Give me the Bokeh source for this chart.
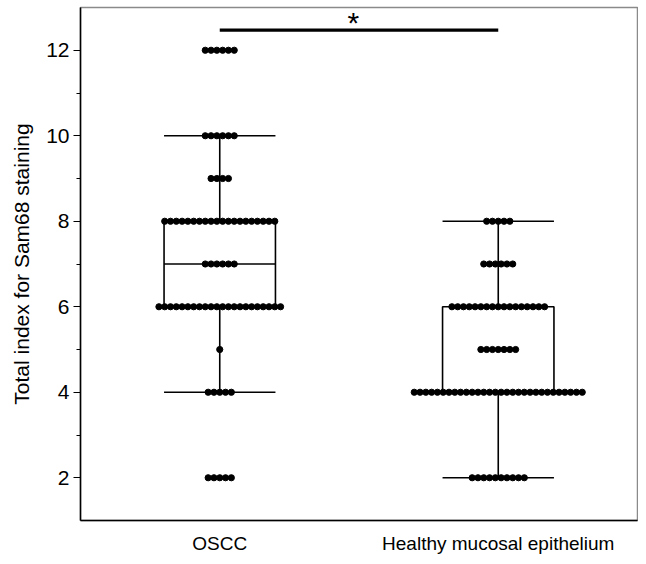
from bokeh.plotting import figure
from bokeh.models import FixedTicker
from bokeh.core.properties import value
from bokeh.embed import file_html
from bokeh.resources import INLINE

# ---- data ----
categories = ["OSCC", "Healthy mucosal epithelium"]
oscc_levels = [12, 10, 9, 8, 7, 6, 5, 4, 2]
oscc_counts = [6, 6, 4, 20, 6, 22, 1, 5, 5]
healthy_levels = [8, 7, 6, 5, 4, 2]
healthy_counts = [5, 6, 17, 7, 30, 10]
# box stats: whisker low, q1, median, q3, whisker high
oscc_box = [4, 6, 7, 8, 10]
healthy_box = [2, 4, 4, 6, 8]
sig_label = "*"
y_title = "Total index for Sam68 staining"
y_ticks = [2, 4, 6, 8, 10, 12]
y_minor = [3, 5, 7, 9, 11]

FONT = "Liberation Sans"

p = figure(width=638, height=556, x_range=(0.5, 2.5), y_range=(1, 13),
           output_backend="svg", toolbar_location=None,
           min_border_left=80, min_border_right=1, min_border_top=7,
           min_border_bottom=36)
p.grid.visible = False
p.outline_line_color = "#8a8a8a"
p.outline_line_width = 1.5
p.background_fill_color = "white"
p.border_fill_color = "white"

spacing = 0.0208
half_w = 0.2
groups = [(1, oscc_levels, oscc_counts, oscc_box),
          (2, healthy_levels, healthy_counts, healthy_box)]

for xc, levels, counts, box in groups:
    lo, q1, med, q3, hi = box
    p.quad(left=[xc - half_w], right=[xc + half_w], bottom=[q1], top=[q3],
           fill_color=None, line_color="black", line_width=1.6)
    p.segment(x0=[xc - half_w], x1=[xc + half_w], y0=[med], y1=[med],
              line_color="black", line_width=1.6)
    p.segment(x0=[xc, xc], x1=[xc, xc], y0=[q3, lo], y1=[hi, q1],
              line_color="black", line_width=1.6)
    p.segment(x0=[xc - half_w, xc - half_w], x1=[xc + half_w, xc + half_w],
              y0=[lo, hi], y1=[lo, hi], line_color="black", line_width=1.6)
    xs, ys = [], []
    for lev, n in zip(levels, counts):
        for i in range(n):
            xs.append(xc + (i - (n - 1) / 2) * spacing)
            ys.append(lev)
    p.scatter(x=xs, y=ys, size=6.2, fill_color="black", line_color="black")

# significance bar
p.segment(x0=[1], x1=[2], y0=[12.47], y1=[12.47], line_color="black", line_width=3.2)
p.text(x=[1.48], y=[12.64], text=[sig_label], text_align="center",
       text_baseline="middle", text_font=value(FONT), text_font_size="30px",
       text_color="black")

# axes
p.yaxis.ticker = FixedTicker(ticks=y_ticks, minor_ticks=y_minor)
p.yaxis.axis_label = y_title
p.yaxis.axis_label_text_font = FONT
p.yaxis.axis_label_text_font_size = "21px"
p.yaxis.axis_label_text_font_style = "normal"
p.yaxis.axis_label_text_color = "black"
p.yaxis.axis_label_standoff = 10
p.yaxis.major_label_text_font = FONT
p.yaxis.major_label_text_font_size = "21px"
p.yaxis.major_label_text_color = "black"
p.yaxis.major_tick_out = 7
p.yaxis.major_tick_in = 0
p.yaxis.minor_tick_out = 4
p.yaxis.minor_tick_in = 0
p.yaxis.axis_line_width = 1.5
p.yaxis.major_tick_line_width = 1.2
p.yaxis.minor_tick_line_width = 1.2
p.yaxis.major_label_standoff = 4

p.xaxis.ticker = FixedTicker(ticks=[1, 2], minor_ticks=[])
p.xaxis.major_label_overrides = {1: categories[0], 2: categories[1]}
p.xaxis.major_label_text_font = FONT
p.xaxis.major_label_text_font_size = "19px"
p.xaxis.major_label_text_color = "black"
p.xaxis.major_tick_out = 0
p.xaxis.major_tick_in = 0
p.xaxis.minor_tick_out = 0
p.xaxis.axis_line_width = 1.5
p.xaxis.major_label_standoff = 12

open("out.html", "w").write(file_html(p, INLINE))
